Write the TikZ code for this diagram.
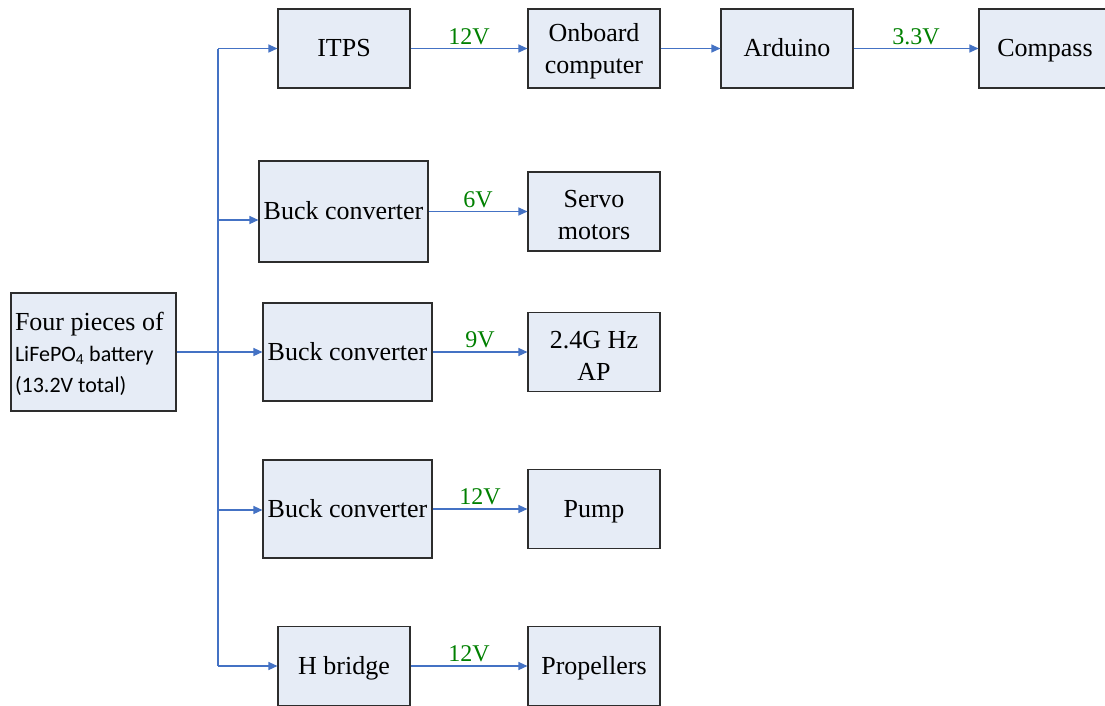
\documentclass[tikz,border=0pt]{standalone}
\usepackage{fontspec}
\setmainfont{Liberation Serif}
\newfontfamily\calibri{Carlito}
\usetikzlibrary{arrows.meta}

\definecolor{boxfill}{RGB}{230,236,246}
\definecolor{boxline}{RGB}{45,45,45}
\definecolor{wireblue}{RGB}{68,114,196}
\definecolor{voltgreen}{RGB}{0,128,0}

\newcommand{\lowstrut}{\rule{0pt}{24pt}}

\tikzset{
  block/.style={draw=boxline, fill=boxfill, line width=1.1pt, inner sep=2pt,
    align=center, font=\fontsize{26}{32}\selectfont},
  oneline/.style={block, text height=21pt, text depth=5pt},
  wire/.style={draw=wireblue, line width=1.2pt},
  feed/.style={wire, -{Triangle[length=9pt,width=8pt]}},
  volt/.style={midway, above, text=voltgreen, inner sep=3.5pt,
    font=\fontsize{24}{28}\selectfont},
}

\begin{document}
\begin{tikzpicture}[x=1pt, y=-1pt]
\useasboundingbox (0,0) rectangle (1105,705);

% battery pack
\node[block, minimum width=165pt, minimum height=118pt, text width=157pt, align=flush left] (bat) at (93.5,352)
  {\rule{0pt}{22pt}Four pieces of\\[-1pt]
   {\calibri\fontsize{22}{30}\selectfont LiFePO\textsubscript{4} battery}\\[-1pt]
   {\calibri\fontsize{22}{30}\selectfont (13.2V total)}};

% converter stage
\node[oneline, minimum width=132pt, minimum height=79pt] (itps) at (344,48.5) {ITPS};
\node[oneline, minimum width=169pt, minimum height=101pt] (buck1) at (343.5,211.5) {Buck converter};
\node[oneline, minimum width=169pt, minimum height=98pt] (buck2) at (347.5,352) {Buck converter};
\node[oneline, minimum width=169pt, minimum height=98pt] (buck3) at (347.5,509) {Buck converter};
\node[oneline, minimum width=132pt, minimum height=79pt] (hb) at (344,666) {H bridge};

% loads
\node[block, minimum width=132pt, minimum height=79pt] (obc) at (594,48.5) {\lowstrut Onboard\\computer};
\node[oneline, minimum width=132pt, minimum height=79pt] (ard) at (787,48.5) {Arduino};
\node[oneline, minimum width=132pt, minimum height=79pt] (cmp) at (1045,48.5) {Compass};
\node[block, minimum width=132pt, minimum height=79pt] (servo) at (594,211.5) {\lowstrut Servo\\motors};
\node[block, minimum width=132pt, minimum height=79pt] (ap) at (594,352) {\lowstrut 2.4G Hz\\AP};
\node[oneline, minimum width=132pt, minimum height=79pt] (pump) at (594,509) {Pump};
\node[oneline, minimum width=132pt, minimum height=79pt] (prop) at (594,666) {Propellers};

% distribution bus
\coordinate (bustop) at (218,48.5);
\coordinate (bus1) at (218,220);
\coordinate (bus3) at (218,510);
\coordinate (busbot) at (218,666);
\draw[wire] (bustop) -- (busbot);

\draw[feed] (bat.east) -- (buck2.west);
\draw[feed] (bustop) -- (itps.west);
\draw[feed] (bus1) -- (bus1 -| buck1.west);
\draw[feed] (bus3) -- (bus3 -| buck3.west);
\draw[feed] (busbot) -- (hb.west);

% regulated outputs
\draw[feed] (itps.east) -- node[volt] {12V} (obc.west);
\draw[feed] (obc.east) -- (ard.west);
\draw[feed] (ard.east) -- node[volt] {3.3V} (cmp.west);
\draw[feed] (buck1.east) -- node[volt] {6V} (servo.west);
\draw[feed] (buck2.east) -- node[volt] {9V} (ap.west);
\draw[feed] (buck3.east) -- node[volt] {12V} (pump.west);
\draw[feed] (hb.east) -- node[volt] {12V} (prop.west);
\end{tikzpicture}
\end{document}
